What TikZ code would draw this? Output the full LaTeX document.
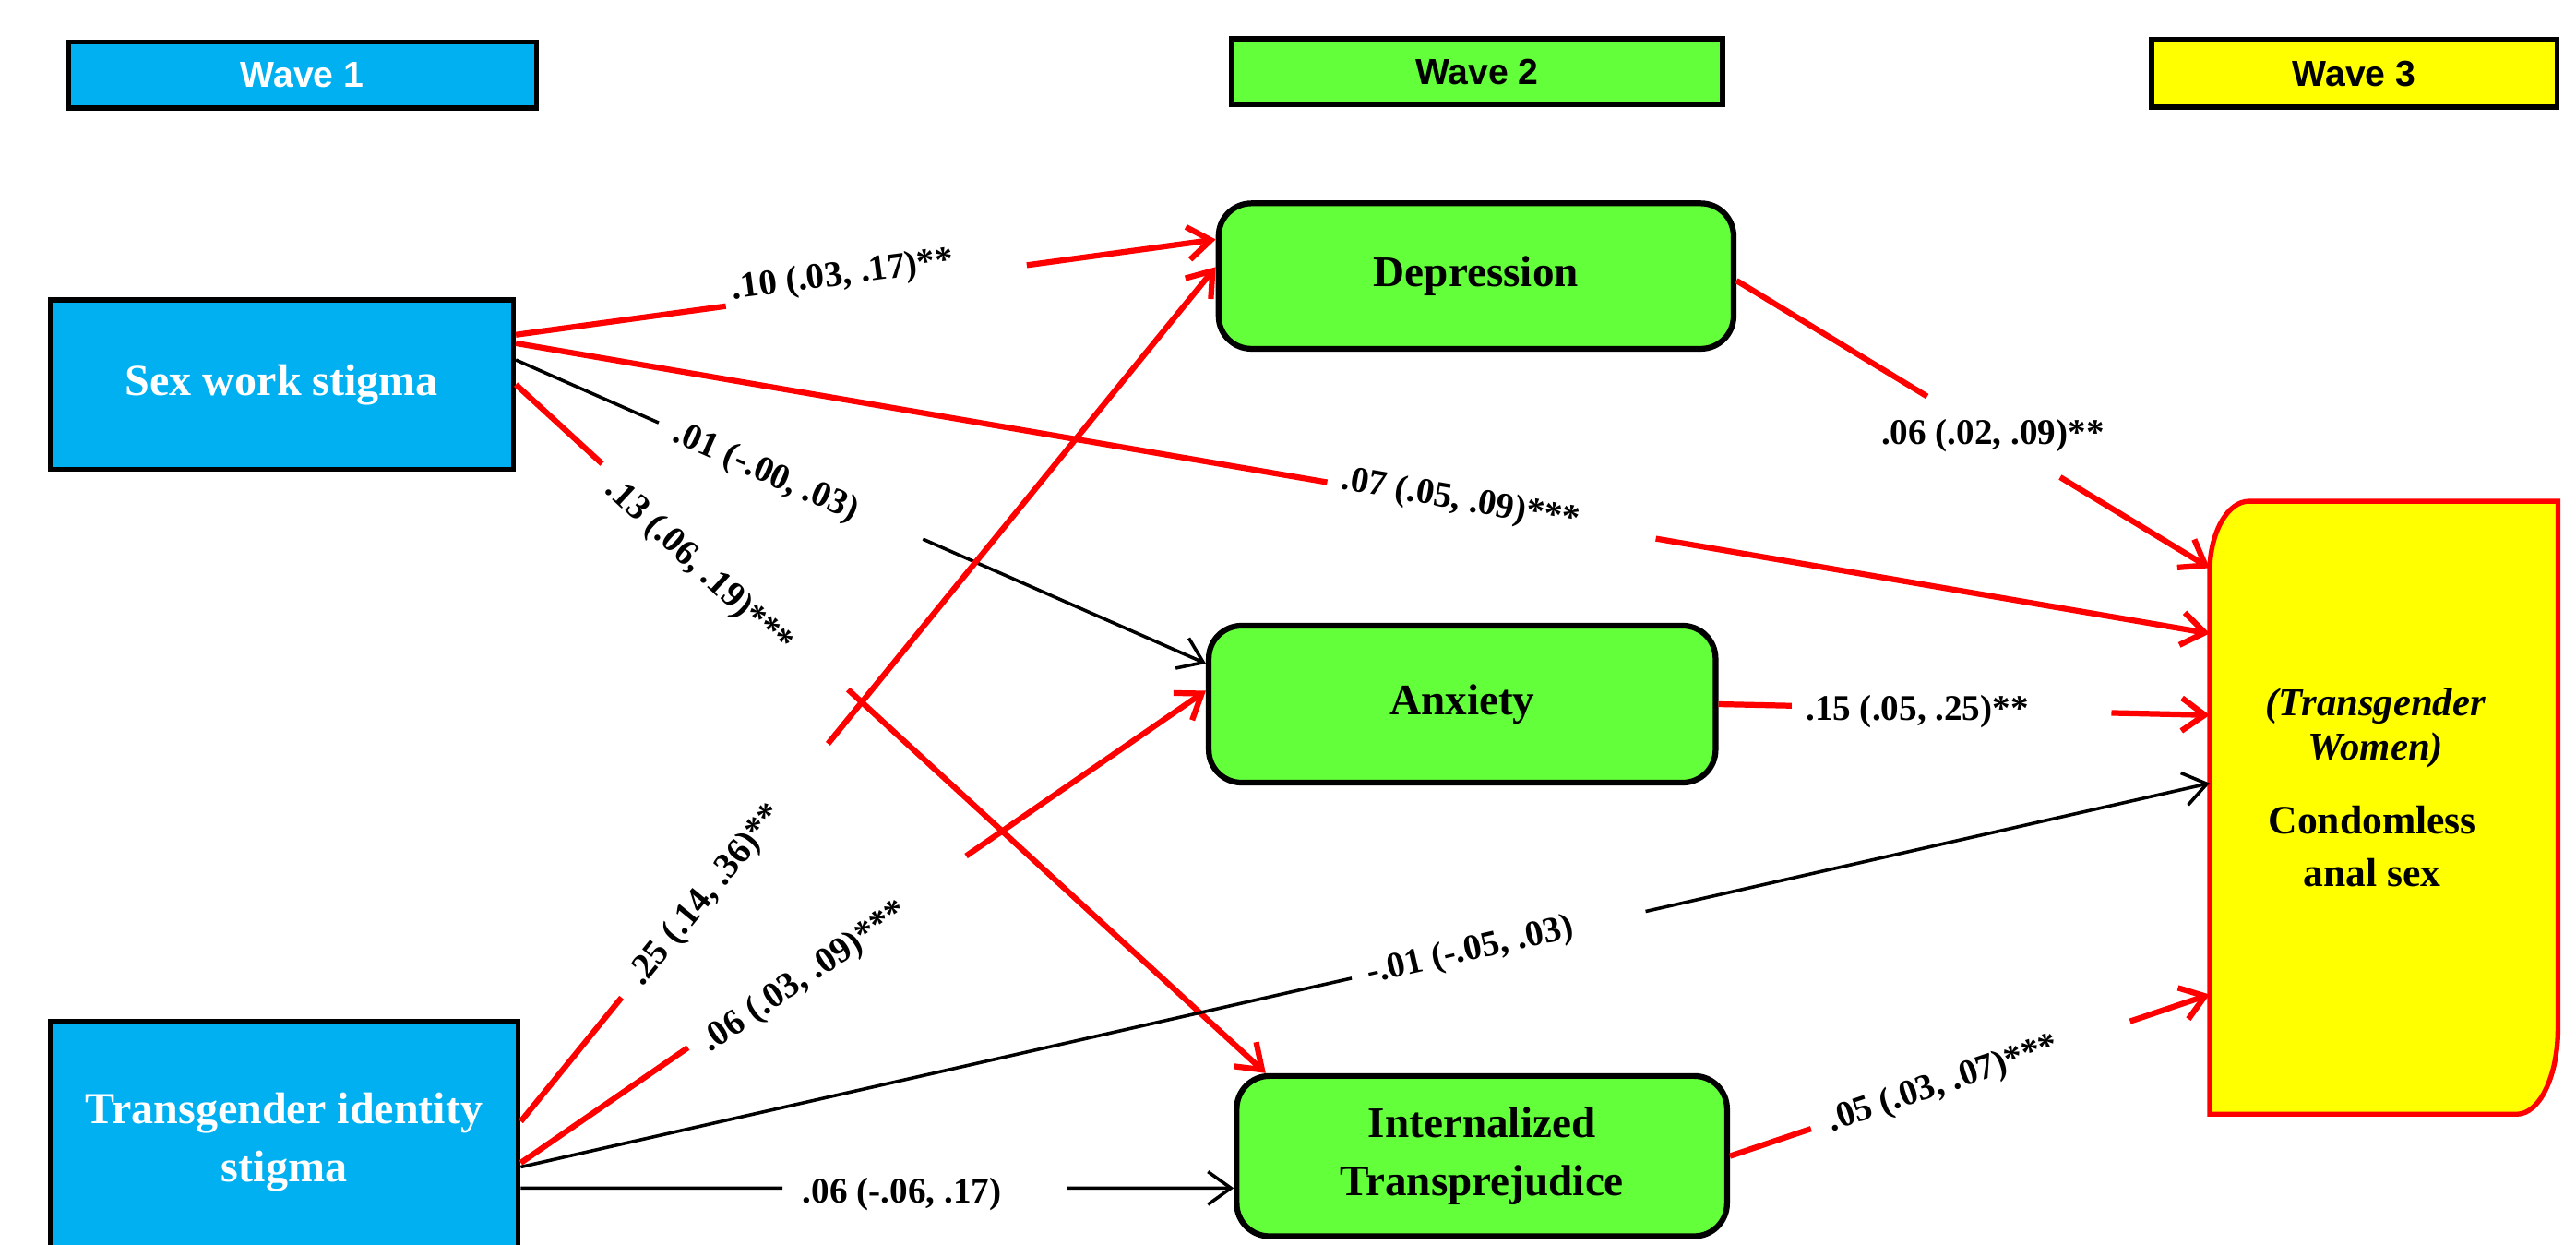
\documentclass[tikz,border=0pt]{standalone}
\usepackage{fontspec}
\setmainfont{Liberation Serif}
\newfontfamily\wavefont{Liberation Sans}
\usetikzlibrary{arrows.meta,calc}
\definecolor{wblue}{HTML}{00B0F0}
\definecolor{wgreen}{HTML}{63FF3A}
\definecolor{wyellow}{HTML}{FFFF00}
\definecolor{wred}{HTML}{FF0000}
\newcommand{\gapedge}[5]{%
  \draw[#1] (#2) -- ($(#2)!#4!(#3)$);
  \draw[#1,tip] ($(#2)!#5!(#3)$) -- (#3);}
\begin{document}
\begin{tikzpicture}[x=1pt,y=-1pt,
  wavebox/.style={draw=black,line width=3.2pt,inner sep=0pt,font=\wavefont\bfseries\fontsize{22}{26}\selectfont},
  stigma/.style={draw=black,line width=3pt,fill=wblue,text=white,align=center,inner sep=0pt,font=\bfseries\fontsize{27}{35}\selectfont},
  medbox/.style={draw=black,line width=3.5pt,fill=wgreen,rounded corners=20pt,align=center,inner sep=0pt,font=\bfseries\fontsize{26.5}{35}\selectfont},
  redline/.style={draw=wred,line width=3.5pt},
  blackline/.style={draw=black,line width=2pt},
  tip/.style={-{Straight Barb[length=14pt,width=20pt]}},
  elabel/.style={font=\bfseries\fontsize{22}{24}\selectfont,inner sep=0pt},
]
\useasboundingbox (0,0) rectangle (1568,757.6);

% wave headers
\node[wavebox,fill=wblue,text=white,minimum width=285pt,minimum height=40pt] (w1) at (184,45.6) {Wave 1};
\node[wavebox,fill=wgreen,minimum width=299pt,minimum height=40pt] (w2) at (899,43.6) {Wave 2};
\node[wavebox,fill=wyellow,minimum width=247pt,minimum height=41pt] (w3) at (1433,44.7) {Wave 3};

% wave 1 boxes
\node[stigma,minimum width=282pt,minimum height=103pt] (sws) at (171.5,234) {Sex work stigma};
\node[stigma,minimum width=285pt,minimum height=147pt] (tis) at (173,695) {Transgender identity\\stigma};

% wave 2 boxes
\node[medbox,minimum width=313.5pt,minimum height=88.5pt] (dep) at (898.5,168) {Depression};
\node[medbox,minimum width=308.5pt,minimum height=95.5pt] (anx) at (890,428.5) {Anxiety};
\node[medbox,minimum width=298.5pt,minimum height=97.5pt] (it) at (902,703.5) {Internalized\\Transprejudice};

% wave 3 outcome
\draw[draw=wred,fill=wyellow,line width=3pt]
  (1345,348) .. controls (1345,324.3) and (1355.8,305) .. (1369,305)
  -- (1557,305) -- (1557,626)
  .. controls (1557,654.7) and (1545.8,678) .. (1532,678)
  -- (1345,678) -- cycle;
\node[minimum width=212pt,minimum height=373pt,inner sep=0pt,outer sep=0pt] (cas) at (1451,491.5) {};
\node[align=center,inner sep=0pt,font=\bfseries\itshape\fontsize{24}{27}\selectfont] (castop) at (1446,443) {(Transgender\\Women)};
\node[align=center,inner sep=0pt,font=\bfseries\fontsize{24.5}{32}\selectfont] (casmain) at (1444,515) {Condomless\\anal sex};

% connectors
\gapedge{redline}{sws.12.47}{dep.172.1}{0.30}{0.73}
\gapedge{redline}{sws.10.57}{cas.135.4}{0.479}{0.673}
\gapedge{blackline}{sws.6.25}{anx.171.43}{0.207}{0.59}
\gapedge{redline}{sws.east}{it.159.77}{0.115}{0.443}
\gapedge{redline}{tis.5.75}{dep.178.9}{0.145}{0.442}
\gapedge{redline}{tis.-5.71}{anx.177.98}{0.244}{0.65}
\gapedge{blackline}{tis.-6.73}{cas.172.74}{0.492}{0.666}
\gapedge{blackline}{tis.-11.39}{tis.-11.39 -| it.west}{0.367}{0.766}
\gapedge{redline}{dep.-1.08}{cas.126.45}{0.403}{0.684}
\gapedge{redline}{anx.east}{cas.152.36}{0.149}{0.80}
\gapedge{redline}{it.-0.57}{cas.227.46}{0.169}{0.834}

% labels
\node[elabel,rotate=7.5] (l1) at (513,168) {.10 (.03, .17)**};
\node[elabel,rotate=-9.9] (l2) at (889,305) {.07 (.05, .09)***};
\node[elabel,rotate=-24] (l3) at (466,288) {.01 (-.00, .03)};
\node[elabel,rotate=-42.9] (l4) at (425,345) {.13 (.06, .19)***};
\node[elabel,rotate=50.6] (l5) at (430,545) {.25 (.14, .36)**};
\node[elabel,rotate=34.2] (l6) at (490,595) {.06 (.03, .09)***};
\node[elabel,rotate=12.8] (l7) at (895,579) {-.01 (-.05, .03)};
\node[elabel] (l8) at (549,727) {.06 (-.06, .17)};
\node[elabel] (l9) at (1213,265) {.06 (.02, .09)**};
\node[elabel] (l10) at (1167,433) {.15 (.05, .25)**};
\node[elabel,rotate=18.7] (l11) at (1183,660) {.05 (.03, .07)***};
\end{tikzpicture}
\end{document}
